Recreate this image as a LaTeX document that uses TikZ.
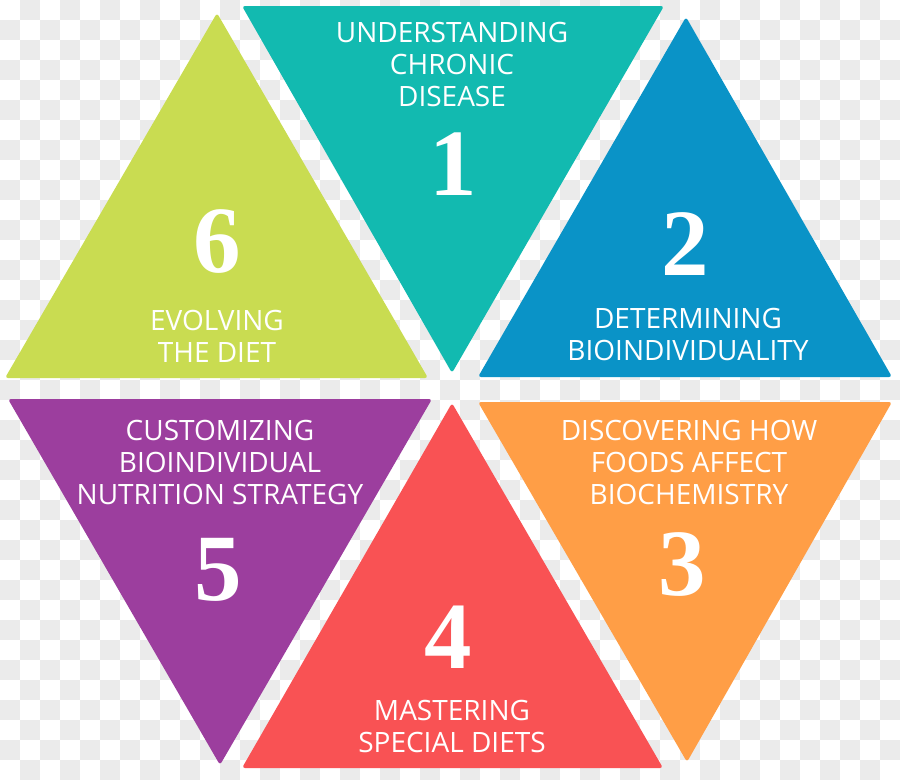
\documentclass[tikz,border=0pt]{standalone}
\usepackage{fontspec}
\setmainfont{Open Sans}
\newfontfamily\numfont{Liberation Serif}
\usetikzlibrary{calc,positioning}

\definecolor{stageteal}{HTML}{12BAB0}
\definecolor{stageblue}{HTML}{0A93C7}
\definecolor{stageorange}{HTML}{FF9E46}
\definecolor{stagered}{HTML}{F95254}
\definecolor{stagepurple}{HTML}{9C3E9E}
\definecolor{stagegreen}{HTML}{C9DC51}
\definecolor{checkgray}{HTML}{EBEBEB}

\begin{document}
\begin{tikzpicture}[x=1pt, y=-1pt,
					tri/.style={rounded corners=3pt},
					checker/.style={fill=checkgray},
					stagelabel/.style={
						text=white, inner sep=0pt, anchor=north, align=center,
						font=\fontsize{28}{32}\selectfont
					},
					stagenum/.style={
						text=white, inner sep=0pt, anchor=base,
						font=\numfont\bfseries\fontsize{95}{95}\selectfont
					}
				]
				\useasboundingbox (0,0) rectangle (900,780);
				
				% transparency checkerboard
				\foreach \i in {0,...,44}
					\foreach \j in {0,...,38} {
						\pgfmathparse{int(mod(\i+\j,2))}
						\ifnum\pgfmathresult=1
							\fill[checker] (20*\i,20*\j) rectangle ++(20,20);
						\fi
					}
				
				% corners of the six triangles
				\coordinate (t1l) at (242,6);   \coordinate (t1r) at (664,6);   \coordinate (t1p) at (452,373);
				\coordinate (t2p) at (686,17);  \coordinate (t2l) at (478,377); \coordinate (t2r) at (892,377);
				\coordinate (t3l) at (478,402); \coordinate (t3r) at (892,402); \coordinate (t3p) at (687,762);
				\coordinate (t4p) at (452,403); \coordinate (t4l) at (242,768); \coordinate (t4r) at (663,768);
				\coordinate (t5l) at (8,399);   \coordinate (t5r) at (432,399); \coordinate (t5p) at (220,765);
				\coordinate (t6p) at (217,13);  \coordinate (t6l) at (5,378);   \coordinate (t6r) at (428,378);
				
				\fill[tri, stageteal]   (t1l) -- (t1r) -- (t1p) -- cycle;
				\fill[tri, stageblue]   (t2p) -- (t2r) -- (t2l) -- cycle;
				\fill[tri, stageorange] (t3l) -- (t3r) -- (t3p) -- cycle;
				\fill[tri, stagered]    (t4p) -- (t4r) -- (t4l) -- cycle;
				\fill[tri, stagepurple] (t5l) -- (t5r) -- (t5p) -- cycle;
				\fill[tri, stagegreen]  (t6p) -- (t6r) -- (t6l) -- cycle;
				
				% labels
				\node[stagelabel] (lab1) at (452,22)  {UNDERSTANDING\\CHRONIC\\DISEASE};
				\node[stagelabel] (lab2) at (688,308) {DETERMINING\\BIOINDIVIDUALITY};
				\node[stagelabel] (lab3) at (689,420) {DISCOVERING HOW\\FOODS AFFECT\\BIOCHEMISTRY};
				\node[stagelabel] (lab4) at (452,700) {MASTERING\\SPECIAL DIETS};
				\node[stagelabel] (lab5) at (220,420) {CUSTOMIZING\\BIOINDIVIDUAL\\NUTRITION STRATEGY};
				\node[stagelabel] (lab6) at (217,310) {EVOLVING\\THE DIET};
				
				% numbers
				\node[stagenum] (num1) at (453,195) {1};
				\node[stagenum] (num2) at (685,275) {2};
				\node[stagenum] (num3) at (682,595) {3};
				\node[stagenum] (num4) at (448,668) {4};
				\node[stagenum] (num5) at (218,600) {5};
				\node[stagenum] (num6) at (217,272) {6};
			\end{tikzpicture}
\end{document}
